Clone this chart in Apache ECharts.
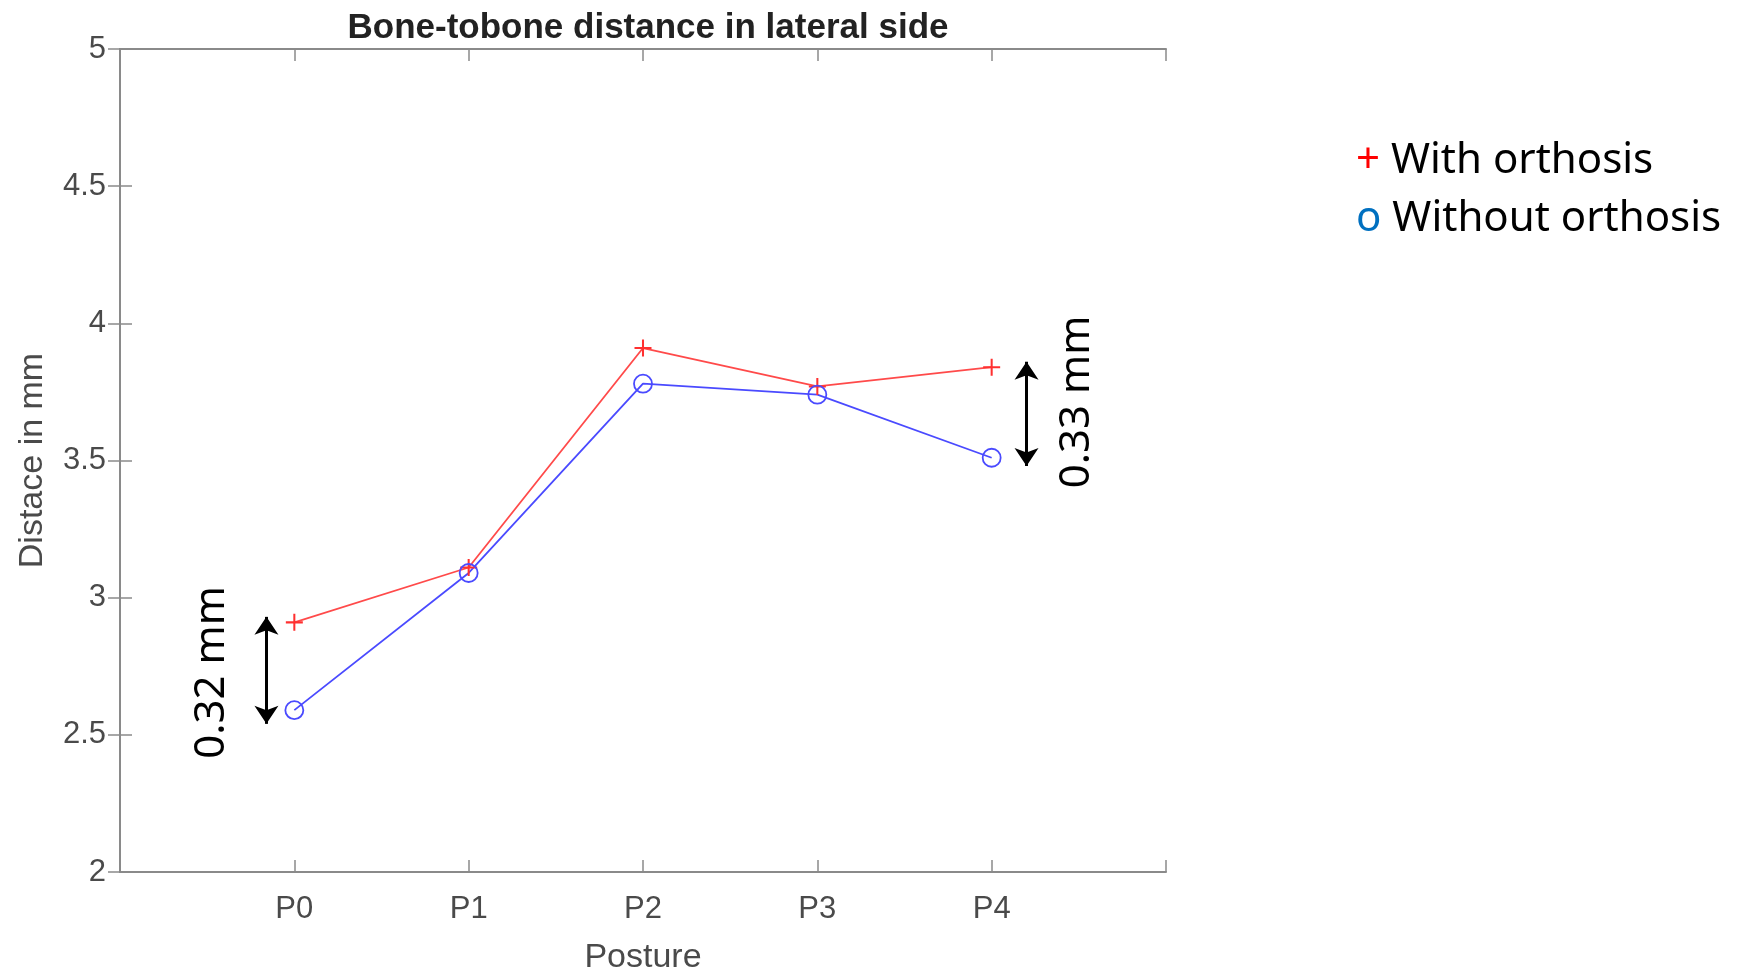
<!DOCTYPE html>
<html>
<head>
<meta charset="utf-8">
<script src="https://cdn.jsdelivr.net/npm/echarts@6/dist/echarts.min.js"></script>
<style>
  html, body { margin: 0; padding: 0; background: #fff; }
  #chart { width: 1749px; height: 970px; }
</style>
</head>
<body>
<div id="chart"></div>
<script>
// postures on the x axis (drawn at x = 1..5 on a 0..6 scale)
const postures = ['P0', 'P1', 'P2', 'P3', 'P4']
// distance in mm
const withOrthosis = [2.91, 3.11, 3.91, 3.77, 3.84]
const withoutOrthosis = [2.59, 3.09, 3.78, 3.74, 3.51]
// y ticks
const yTicks = [2, 2.5, 3, 3.5, 4, 4.5, 5]
// difference annotations: x position, arrow from/to, text
const notes = [
  { x: 0.84, from: 2.54, to: 2.93, text: '0.32 mm', dx: -54, dy: 2 },
  { x: 5.2, from: 3.48, to: 3.86, text: '0.33 mm', dx: 50, dy: -12 }
]

const legendMark = { 'With orthosis': '{p|+}', 'Without orthosis': '{o|o}' }

const axisGray = '#8a8a8a'
const labelGray = '#4a4a4a'

const chart = echarts.init(document.getElementById('chart'))

const option = {
  animation: false,
  backgroundColor: '#fff',
  title: {
    text: 'Bone-tobone distance in lateral side',
    left: 643,
    textAlign: 'center',
    top: 6,
    textStyle: { fontFamily: 'Liberation Sans', fontWeight: 'bold', fontSize: 35, color: '#222' }
  },
  legend: {
    orient: 'vertical',
    left: 1346,
    top: 131,
    icon: 'none',
    itemWidth: 0,
    itemGap: 8,
    selectedMode: false,
    data: ['With orthosis', 'Without orthosis'],
    formatter: (name) => legendMark[name] + ' ' + name,
    textStyle: {
      fontFamily: 'Noto Sans',
      fontSize: 42,
      lineHeight: 50,
      color: '#000',
      rich: {
        p: { color: '#ff0000', fontSize: 42, fontFamily: 'Noto Sans' },
        o: { color: '#0070c0', fontSize: 42, fontFamily: 'Noto Sans' }
      }
    }
  },
  grid: { left: 120, right: 583, top: 49, bottom: 98, outerBoundsMode: 'none', containLabel: false },
  xAxis: [
    {
      type: 'value',
      min: 0,
      max: 6,
      interval: 1,
      name: 'Posture',
      nameLocation: 'middle',
      nameGap: 69,
      nameTextStyle: { fontFamily: 'Liberation Sans', fontSize: 34, color: labelGray },
      axisLine: { lineStyle: { color: axisGray, width: 2 } },
      axisTick: { inside: true, length: 12, lineStyle: { color: axisGray, width: 1.5 } },
      axisLabel: {
        margin: 22,
        fontFamily: 'Liberation Sans',
        fontSize: 31,
        color: labelGray,
        formatter: (v) => postures[v - 1] || ''
      },
      splitLine: { show: false }
    },
    {
      type: 'value',
      position: 'top',
      min: 0,
      max: 6,
      interval: 1,
      axisLine: { lineStyle: { color: axisGray, width: 2 } },
      axisTick: { inside: true, length: 12, lineStyle: { color: axisGray, width: 1.5 } },
      axisLabel: { show: false },
      splitLine: { show: false }
    }
  ],
  yAxis: [
    {
      type: 'value',
      min: yTicks[0],
      max: yTicks[yTicks.length - 1],
      interval: 0.5,
      name: 'Distace in mm',
      nameLocation: 'middle',
      nameGap: 70,
      nameTextStyle: { fontFamily: 'Liberation Sans', fontSize: 34, color: labelGray },
      axisLine: { show: true, lineStyle: { color: axisGray, width: 2 } },
      axisTick: { show: true, inside: true, length: 12, lineStyle: { color: axisGray, width: 1.5 } },
      axisLabel: { margin: 14, fontFamily: 'Liberation Sans', fontSize: 31, color: labelGray },
      splitLine: { show: false }
    },
    {
      type: 'value',
      position: 'right',
      min: yTicks[0],
      max: yTicks[yTicks.length - 1],
      interval: 0.5,
      axisLine: { show: true, lineStyle: { color: axisGray, width: 2 } },
      axisTick: { show: true, inside: true, length: 12, lineStyle: { color: axisGray, width: 1.5 } },
      axisLabel: { show: false },
      splitLine: { show: false }
    }
  ],
  series: [
    {
      name: 'With orthosis',
      type: 'line',
      data: withOrthosis.map((v, i) => [i + 1, v]),
      symbol: 'path://M4.4,0 H5.6 V4.4 H10 V5.6 H5.6 V10 H4.4 V5.6 H0 V4.4 H4.4 Z',
      symbolSize: 17,
      itemStyle: { color: '#ff3030' },
      lineStyle: { color: '#ff4a4a', width: 1.8 },
      markLine: {
        silent: true,
        symbol: ['arrow', 'arrow'],
        symbolSize: 18,
        label: { show: false },
        lineStyle: { color: '#000', width: 3, type: 'solid' },
        emphasis: { disabled: true },
        data: notes.map((n) => [{ coord: [n.x, n.from] }, { coord: [n.x, n.to] }])
      }
    },
    {
      name: 'Without orthosis',
      type: 'line',
      data: withoutOrthosis.map((v, i) => [i + 1, v]),
      symbol: 'circle',
      symbolSize: 18,
      itemStyle: { color: 'rgba(0,0,0,0)', borderColor: '#4a4aff', borderWidth: 1.8 },
      lineStyle: { color: '#4a4aff', width: 1.8 }
    }
  ]
}

chart.setOption(option)

// rotated difference labels next to the arrows
chart.setOption({
  graphic: notes.map((n) => {
    const p = chart.convertToPixel({ gridIndex: 0 }, [n.x, (n.from + n.to) / 2])
    return {
      type: 'text',
      x: p[0] + n.dx,
      y: p[1] + n.dy,
      rotation: Math.PI / 2,
      style: {
        text: n.text,
        fontFamily: 'Noto Sans',
        fontSize: 42,
        fill: '#000',
        align: 'center',
        verticalAlign: 'middle'
      }
    }
  })
})
</script>
</body>
</html>
